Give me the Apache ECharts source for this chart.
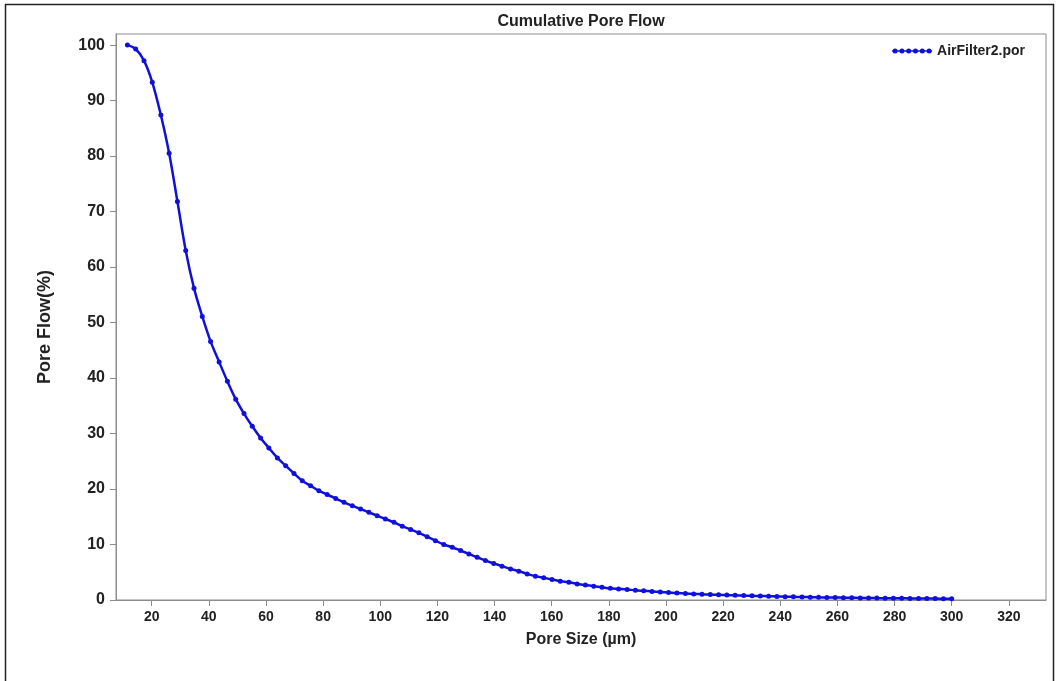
<!DOCTYPE html>
<html>
<head>
<meta charset="utf-8">
<script src="https://cdn.jsdelivr.net/npm/echarts@6/dist/echarts.min.js"></script>
<style>
  html, body { margin: 0; padding: 0; background: #fff; }
  #main { width: 1057px; height: 681px; }
</style>
</head>
<body>
<div id="main"></div>
<script>
// pore size (um)
var poreSize = [
  11.5, 14.4, 17.3, 20.2, 23.2, 26.1, 29.0, 31.9, 34.8, 37.7,
  40.6, 43.6, 46.5, 49.4, 52.3, 55.2, 58.1, 61.0, 64.0, 66.9,
  69.8, 72.7, 75.6, 78.5, 81.4, 84.4, 87.3, 90.2, 93.1, 96.0,
  98.9, 101.8, 104.8, 107.7, 110.6, 113.5, 116.4, 119.3, 122.2, 125.2,
  128.1, 131.0, 133.9, 136.8, 139.7, 142.6, 145.6, 148.5, 151.4, 154.3,
  157.2, 160.1, 163.0, 166.0, 168.9, 171.8, 174.7, 177.6, 180.5, 183.4,
  186.4, 189.3, 192.2, 195.1, 198.0, 200.9, 203.8, 206.8, 209.7, 212.6,
  215.5, 218.4, 221.3, 224.2, 227.2, 230.1, 233.0, 235.9, 238.8, 241.7,
  244.6, 247.6, 250.5, 253.4, 256.3, 259.2, 262.1, 265.0, 268.0, 270.9,
  273.8, 276.7, 279.6, 282.5, 285.4, 288.4, 291.3, 294.2, 297.1, 300.0
];

// cumulative pore flow (%)
var poreFlow = [
  100, 99.3, 97.2, 93.3, 87.4, 80.5, 71.8, 63.0, 56.2, 51.1,
  46.6, 42.9, 39.4, 36.2, 33.6, 31.3, 29.2, 27.4, 25.6, 24.2,
  22.8, 21.5, 20.6, 19.7, 19.0, 18.3, 17.6, 17.0, 16.4, 15.8,
  15.2, 14.6, 14.0, 13.3, 12.7, 12.1, 11.4, 10.7, 10.0, 9.5,
  8.9, 8.3, 7.7, 7.1, 6.6, 6.1, 5.6, 5.2, 4.7, 4.3,
  4.0, 3.7, 3.4, 3.2, 2.9, 2.7, 2.5, 2.3, 2.1, 2.0,
  1.9, 1.75, 1.65, 1.55, 1.45, 1.35, 1.25, 1.18, 1.1, 1.03,
  0.97, 0.93, 0.89, 0.85, 0.8, 0.76, 0.72, 0.68, 0.64, 0.6,
  0.57, 0.54, 0.51, 0.48, 0.46, 0.44, 0.42, 0.4, 0.38, 0.36,
  0.34, 0.33, 0.31, 0.3, 0.29, 0.27, 0.26, 0.25, 0.24, 0.22
];

var xTicks = [20, 40, 60, 80, 100, 120, 140, 160, 180, 200, 220, 240, 260, 280, 300, 320];
var yTicks = [0, 10, 20, 30, 40, 50, 60, 70, 80, 90, 100];

var font = '"Liberation Sans", Arial, sans-serif';
var blue = '#1010dc';
var myChart = echarts.init(document.getElementById('main'));

var points = [];
for (var i = 0; i < poreSize.length; i++) {
  points.push([poreSize[i], poreFlow[i]]);
}

// legend icon: line with six dots
var dot = function(cx) {
  return 'M' + (cx - 2.5) + ',3a2.5,2.5 0 1,1 5,0a2.5,2.5 0 1,1 -5,0Z';
};
var legendIcon = 'path://M0,2.3H40V3.7H0Z ' + [3, 9.8, 16.6, 23.4, 30.2, 37].map(dot).join(' ');

var option = {
  animation: false,
  backgroundColor: '#fff',
  textStyle: { fontFamily: font },
  title: {
    text: 'Cumulative Pore Flow',
    left: 576,
    textAlign: 'center',
    top: 9,
    textStyle: { fontSize: 16, fontWeight: 'bold', color: '#222', fontFamily: font }
  },
  legend: {
    right: 27,
    top: 39,
    itemWidth: 40,
    itemHeight: 6,
    itemGap: 5,
    icon: legendIcon,
    textStyle: { fontSize: 14, fontWeight: 'bold', color: '#222', fontFamily: font },
    data: ['AirFilter2.por']
  },
  grid: {
    left: 116,
    top: 34,
    right: 11,
    bottom: 81,
    show: true,
    borderColor: '#8c8c8c',
    borderWidth: 1
  },
  xAxis: {
    type: 'value',
    min: 7.5,
    max: 333,
    name: 'Pore Size (\u00b5m)',
    nameLocation: 'middle',
    nameGap: 32,
    nameTextStyle: { fontSize: 16, fontWeight: 'bold', color: '#222', fontFamily: font },
    axisLine: { show: true, lineStyle: { color: '#8c8c8c', width: 1 } },
    axisTick: { show: true, length: 6, customValues: xTicks, lineStyle: { color: '#8c8c8c' } },
    axisLabel: { customValues: xTicks, fontSize: 14, fontWeight: 'bold', color: '#222', margin: 10, fontFamily: font },
    splitLine: { show: false }
  },
  yAxis: {
    type: 'value',
    min: 0,
    max: 102,
    name: 'Pore Flow(%)',
    nameLocation: 'middle',
    nameGap: 62,
    nameTextStyle: { fontSize: 18, fontWeight: 'bold', color: '#222', fontFamily: font, padding: [0, 20, 0, 0] },
    axisLine: { show: true, lineStyle: { color: '#8c8c8c', width: 1 } },
    axisTick: { show: true, length: 6, customValues: yTicks, lineStyle: { color: '#8c8c8c' } },
    axisLabel: { customValues: yTicks, fontSize: 16, fontWeight: 'bold', color: '#222', margin: 11, fontFamily: font },
    splitLine: { show: false }
  },
  graphic: [{
    type: 'rect',
    shape: { x: 5.5, y: 4.5, width: 1048, height: 690 },
    style: { fill: 'none', stroke: '#222', lineWidth: 1.5 },
    silent: true
  }],
  series: [{
    name: 'AirFilter2.por',
    type: 'line',
    data: points,
    smooth: 0.35,
    symbol: 'circle',
    symbolSize: 5,
    showSymbol: true,
    lineStyle: { color: blue, width: 2.5 },
    itemStyle: { color: blue }
  }]
};

myChart.setOption(option);
</script>
</body>
</html>
